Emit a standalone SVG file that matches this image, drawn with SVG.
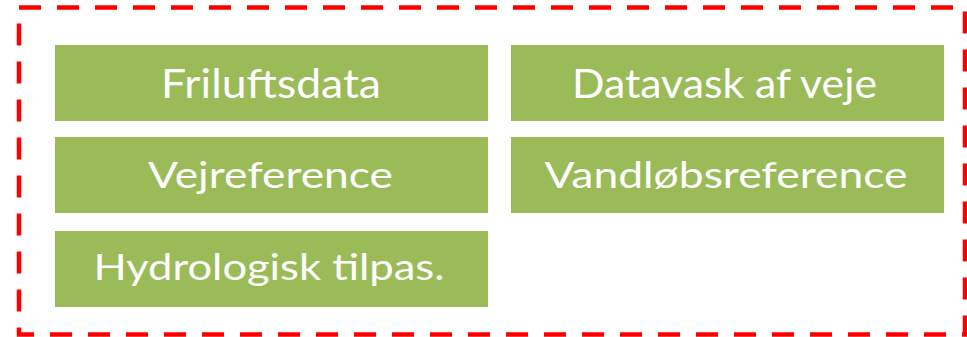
<svg xmlns="http://www.w3.org/2000/svg" width="967" height="337" viewBox="0 0 967 337">
<style>
.box{fill:#9BBB59}
.lbl{fill:#FFFFFF;font-family:Lato,"Open Sans","Liberation Sans",sans-serif;text-anchor:middle}
.big{font-size:40px}
.sm{font-size:37px}
.frame{fill:none;stroke:#FF0000;stroke-width:4.5;stroke-dasharray:22 16}
</style>
<rect class="frame" x="19" y="7.5" width="946" height="327"/>
<g id="n1"><rect class="box" x="55" y="45" width="433" height="76"/><text class="lbl big" x="271" y="97.5" textLength="220" lengthAdjust="spacingAndGlyphs">Friluftsdata</text></g>
<g id="n2"><rect class="box" x="511" y="45" width="433" height="76"/><text class="lbl big" x="724.5" y="97.5" textLength="305" lengthAdjust="spacingAndGlyphs">Datavask af veje</text></g>
<g id="n3"><rect class="box" x="55" y="137" width="433" height="76"/><text class="lbl sm" x="270.5" y="187.5" textLength="245" lengthAdjust="spacingAndGlyphs">Vejreference</text></g>
<g id="n4"><rect class="box" x="511" y="137" width="433" height="76"/><text class="lbl sm" x="726" y="187.5" textLength="363" lengthAdjust="spacingAndGlyphs">Vandløbsreference</text></g>
<g id="n5"><rect class="box" x="55" y="231" width="433" height="76"/><text class="lbl sm" x="269" y="279.5" textLength="351" lengthAdjust="spacingAndGlyphs">Hydrologisk tilpas.</text></g>
<g id="connectors"></g>
</svg>
